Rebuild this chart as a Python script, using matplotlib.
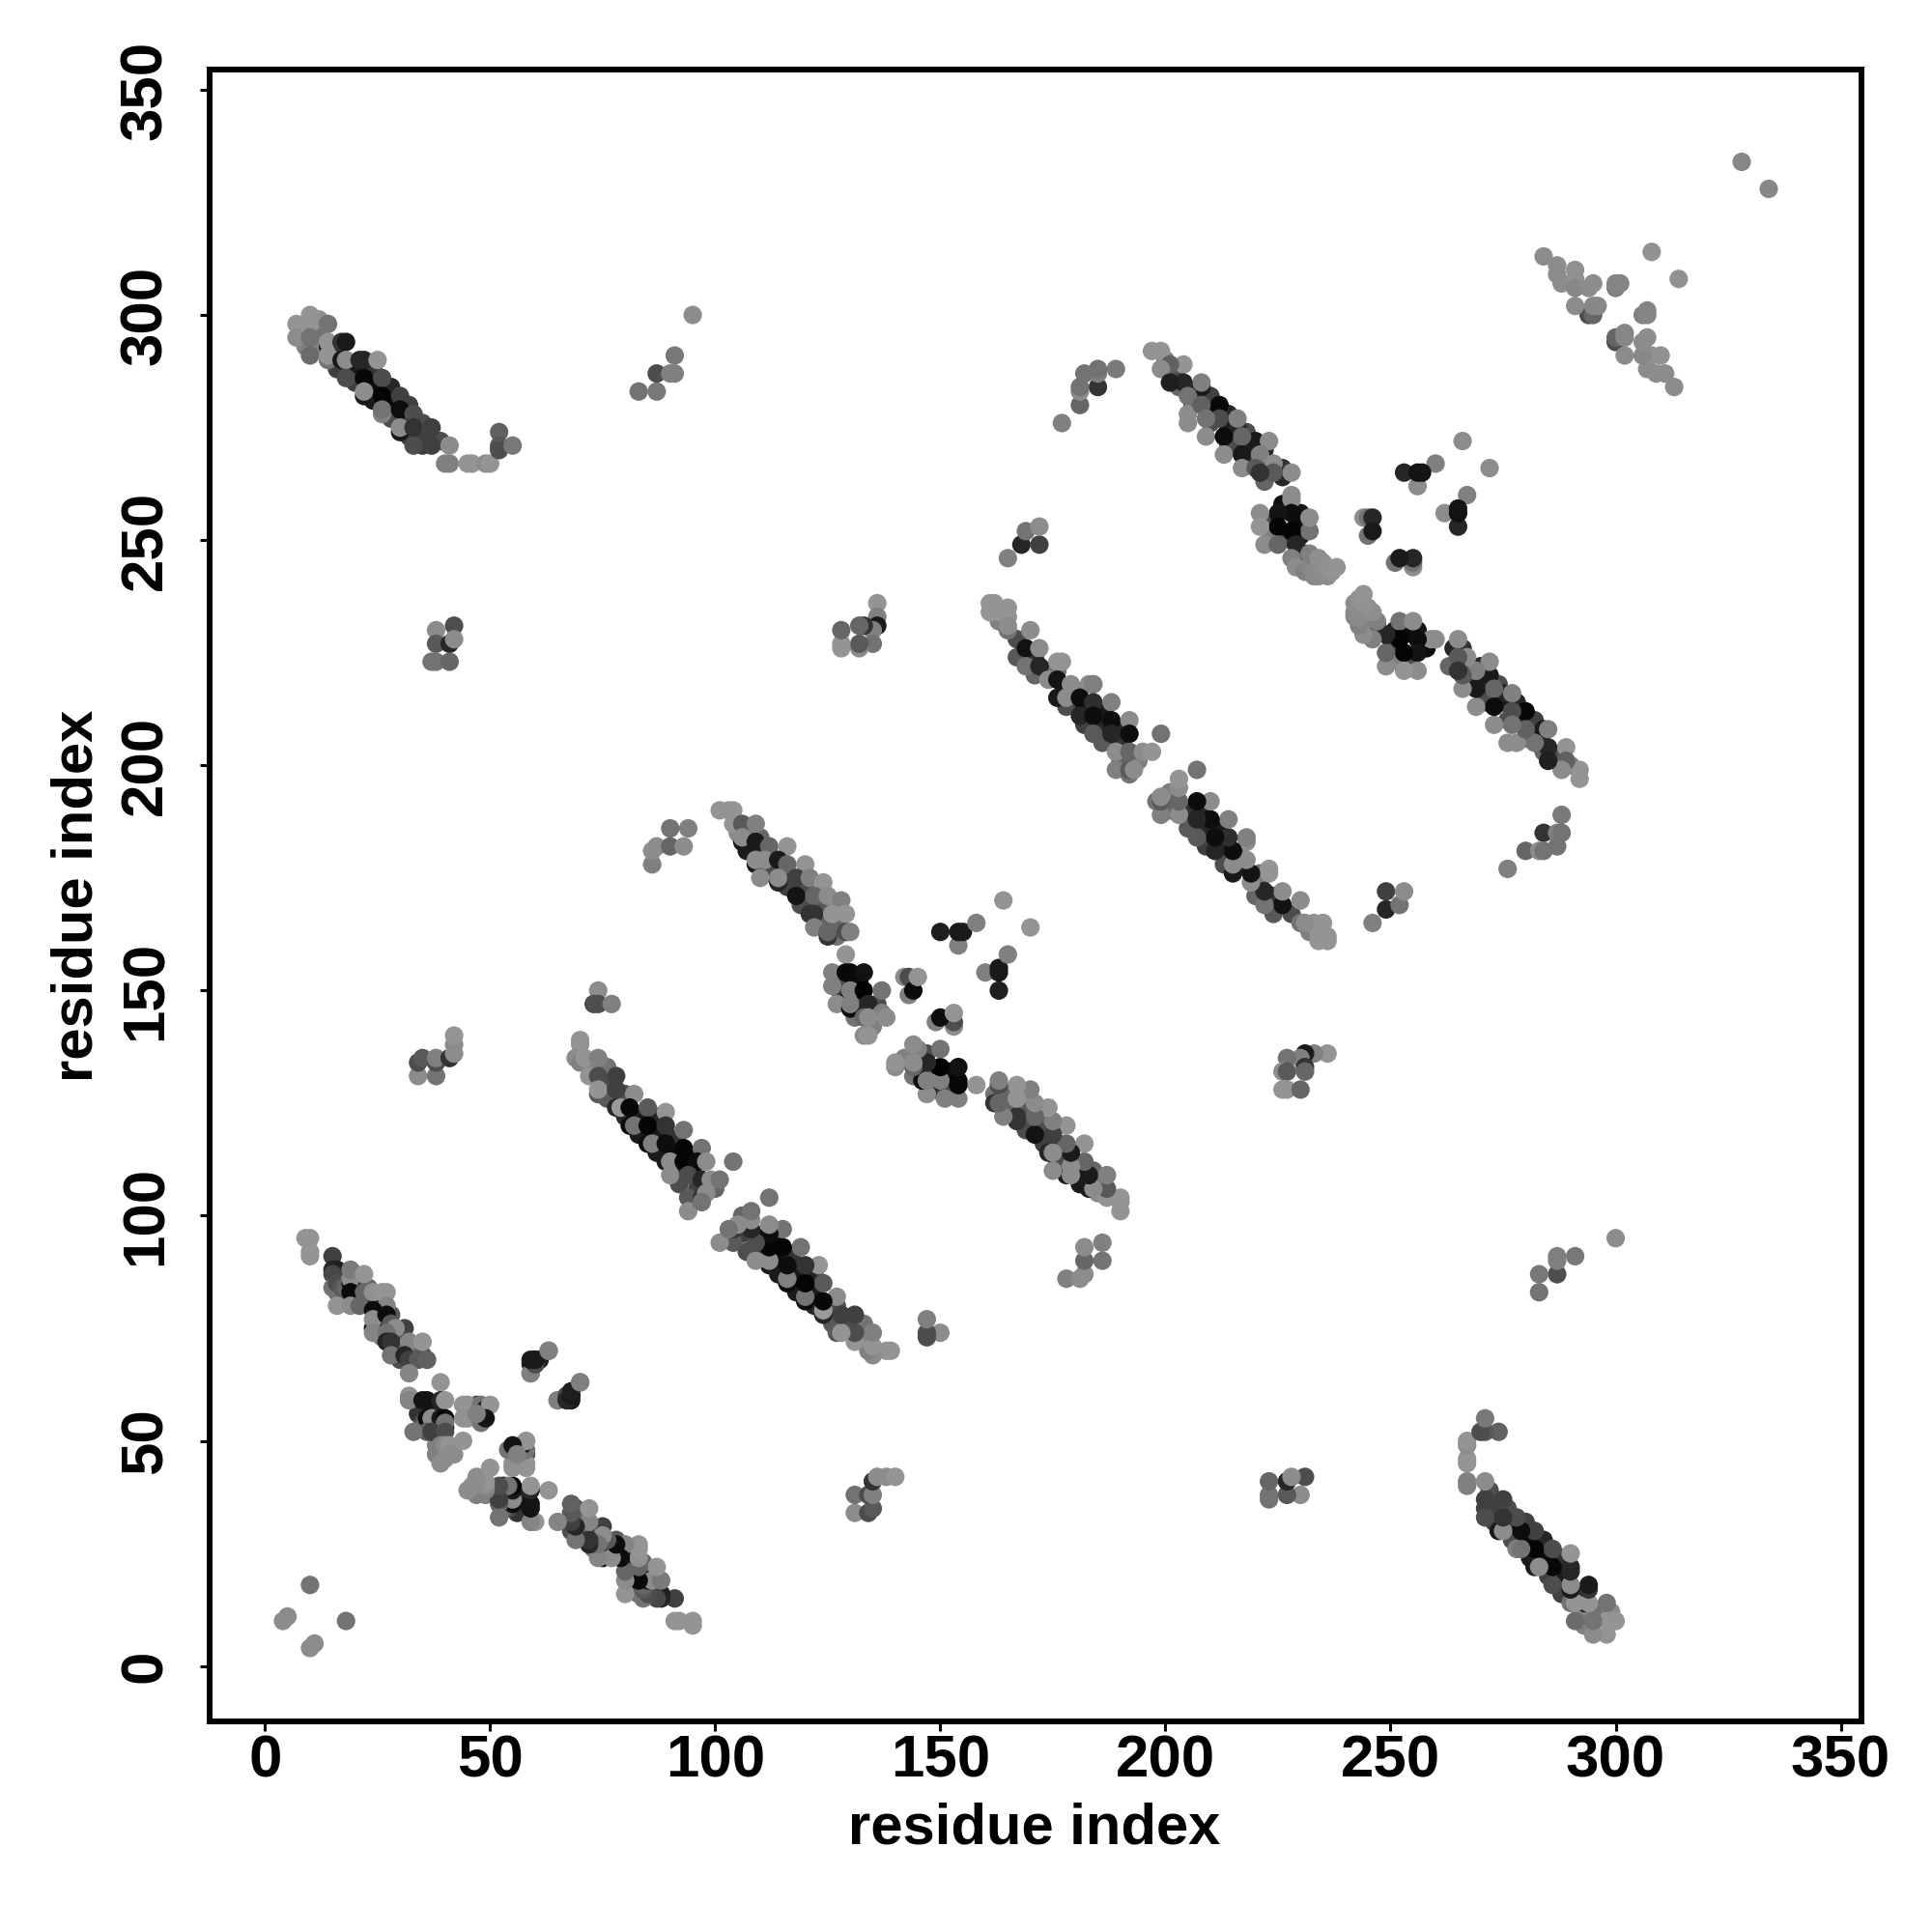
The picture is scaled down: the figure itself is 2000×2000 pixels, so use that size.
import matplotlib
matplotlib.use("Agg")
import matplotlib.pyplot as plt
import numpy as np

# contacts (residue i, residue j, grey level in percent); the map is symmetric, i < j listed
under_a = [(17,86,25),(20,84,30),(20,87,45),(18,82,35),(21,83,15),(23,81,20),(23,84,40),(25,81,15),(25,78,25),(25,76,30),
 (26,75,15),(28,78,35),(29,73,15),(30,72,25),(26,73,50),(30,70,30),(33,70,20),(35,69,25),(31,71,40),(34,70,40),(30,68,30),
 (17,82,50),(16,83,40),(34,56,20),(35,54,30),(37,57,10),(38,58,15),(38,54,20),(38,51,25),(35,53,40),(38,49,50),(38,47,50),
 (42,47,55),(47,58,30)]
under_b = [(76,129,40),(75,130,30),(76,126,35),(80,127,30),(80,122,15),(83,122,10),(83,118,10),(87,118,10),(87,122,15),
 (87,114,10),(91,114,5),(91,117,20),(91,110,20),(95,110,15),(95,113,5),(92,107,30),(96,106,25),(72,134,50),(76,133,45),(100,106,40)]
under_c = [(107,185,45),(107,181,10),(111,181,20),(112,178,15),(112,176,30),(116,176,20),(116,173,25),(120,173,30),(120,169,25),
 (124,169,35),(124,166,40),(127,165,40),(127,162,45),(119,169,30),(105,185,55),(127,168,50),(110,184,40),
 (128,152,30),(131,152,5),(128,149,20),(132,152,5),(132,148,10),(135,145,30),(132,146,25),(136,147,30),(131,144,45),(135,142,50)]
under_f = [(163,232,50),(167,228,30),(167,224,35),(171,224,20),(174,221,15),(171,220,40),(178,217,15),(178,213,30),(182,213,10),
 (186,212,10),(182,209,25),(186,209,15),(186,205,35),(190,205,20),(190,208,15),(190,201,40),(194,201,50),(176,221,45),(180,216,40)]
under_g = [(12,296,45),(12,293,50),(16,292,20),(16,288,25),(20,288,10),(20,285,25),(24,288,20),(24,284,5),(24,281,10),(28,284,15),
 (28,280,5),(28,277,30),(32,277,15),(32,280,25),(32,273,25),(35,273,25),(35,271,25),(35,276,30),(39,272,30),(9,293,50),(12,299,55)]
under_h = [(202,287,30),(206,283,20),(206,280,40),(210,279,10),(210,282,25),(210,276,30),(214,278,15),(214,275,10),(214,271,30),
 (218,271,15),(218,274,30),(218,268,25),(222,268,20),(222,270,15),(222,263,40),(226,264,15),(226,266,20),(203,284,40),(200,290,50),
 (224,252,15),(226,250,25),(230,251,10),(223,254,30),(226,258,5),(230,256,8),(223,252,50),(229,253,5),(231,247,35),(230,245,30)]
corner = [(4,10,55),(5,11,55),(10,18,45)]
band_a = [(9,95,58),(10,95,58),(10,92,58),(10,91,58),(15,91,25),(15,88,15),(16,88,13),(15,87,28),(15,84,45),
 (16,85,30),(17,84,35),(16,80,58),(18,84,40),(19,85,10),(19,86,55),(19,88,48),(22,87,58),(19,83,4),(19,80,55),
 (21,80,40),(22,83,40),(24,83,57),(26,83,58),(27,83,58),(27,80,52),(24,79,5),(24,75,5),(24,77,55),(24,74,52),
 (27,78,5),(28,76,35),(31,75,25),(29,75,55),(27,74,45),(27,72,15),(28,72,20),(32,72,52),(35,72,58),(28,69,45),
 (31,69,15),(32,68,25),(34,68,35),(36,68,38),(32,65,52)]
cross_a = [(32,60,58),(32,59,52),(39,63,58),(35,59,8),(36,59,8),(39,59,15),(40,59,58),(36,55,5),(37,55,55),(39,55,10),
 (40,53,5),(40,55,2),(40,54,45),(36,52,38),(33,52,45),(37,52,25),(40,52,30),(44,50,58),(39,49,50),(40,49,55),(41,49,58),
 (41,47,55),(40,46,55),(39,45,55),(45,58,58),(44,58,58),(45,55,58),(44,55,57),(48,58,45),(49,57,10),(50,58,58),
 (48,54,45),(49,55,8),(47,56,50),(59,65,50),(60,67,30),(59,67,15),(60,68,10),(61,68,12),(63,70,50),(65,59,50),
 (67,60,30),(68,60,10),(68,59,10),(70,63,50)]
band_b = [(74,150,55),(73,147,30),(74,147,30),(77,147,50),(70,139,58),(70,138,58),(69,135,55),(70,134,50),(71,135,58),
 (72,131,58),(74,135,50),(74,131,30),(74,127,35),(74,128,58),(78,131,25),(78,128,25),(82,127,55),(78,124,15),(79,124,60),
 (81,124,3),(85,124,35),(89,123,58),(81,120,5),(82,120,45),(85,120,2),(89,120,20),(93,119,45),(85,116,5),(86,116,50),
 (89,116,5),(93,115,2),(97,115,45),(89,112,10),(90,112,55),(93,112,2),(96,112,5),(98,112,55),(104,112,45),(90,109,55),
 (94,109,30),(97,108,15),(99,108,55),(101,108,45),(94,104,35),(97,104,20),(98,105,55),(94,101,55),(97,103,45)]
band_c = [(101,190,58),(103,190,58),(104,190,58),(104,187,58),(106,187,35),(109,187,50),(106,183,10),(106,184,55),(109,183,10),
 (112,182,40),(116,182,58),(109,178,10),(109,179,55),(111,179,55),(114,179,10),(116,178,40),(120,178,58),(110,175,55),
 (114,174,15),(114,175,55),(118,175,25),(121,175,50),(124,174,58),(118,171,8),(122,171,40),(125,171,55),(128,170,50),
 (121,167,20),(122,167,20),(126,167,58),(129,167,58),(122,164,50),(125,162,20),(125,163,40),(129,163,30),(130,163,50)]
cross_c = [(129,158,58),(126,154,50),(126,151,50),(129,154,3),(130,154,3),(133,154,7),(130,149,5),(130,150,50),(133,150,1),(137,150,45),
 (127,147,55),(130,146,5),(130,147,50),(134,147,15),(133,144,40),(137,145,50),(134,144,55),(138,144,55),(133,140,55),(134,140,58),
 (142,153,55),(143,153,30),(143,149,50),(144,150,5),(145,153,58),(150,163,12),(154,160,50),(154,163,10),(155,163,10),
 (158,165,50),(164,170,58)]
group_e = [(86,178,50),(86,181,55),(87,182,55),(90,182,40),(90,186,45),(94,186,50),(93,182,55)]
band_f = [(161,236,58),(162,236,58),(161,234,58),(162,235,58),(163,234,58),(165,235,58),(165,233,58),(165,230,45),(165,231,55),(170,230,55),
 (169,226,7),(172,226,55),(169,222,45),(172,222,15),(176,223,58),(177,223,58),(174,219,55),(176,219,8),(179,218,55),(183,218,55),(184,218,50),
 (176,215,10),(178,215,55),(181,215,5),(184,214,18),(188,214,50),(181,211,15),(184,211,5),(188,210,5),(192,210,55),(184,207,35),(188,207,15),
 (192,207,5),(199,207,45),(189,203,55),(192,203,40),(195,203,55),(197,203,58),(189,199,50),(192,198,45),(192,199,35),(193,199,55)]
group_f2 = [(165,246,50),(168,249,15),(172,249,25),(169,252,45),(172,253,55)]
group_g = [(136,236,58),(136,233,50),(136,231,10),(135,230,50),(135,227,45),(132,226,55),(132,227,35),(133,231,20),(132,231,40),
 (128,226,58),(128,227,58),(128,230,40)]
group_h = [(38,230,55),(38,227,35),(42,231,30),(41,227,15),(42,228,55),(37,223,45),(38,223,45),(41,223,40),
 (95,300,55),(91,291,47),(87,287,30),(90,287,50),(91,287,50),(83,283,45),(87,283,47),
 (34,131,55),(38,131,45),(34,134,30),(35,135,35),(38,134,30),(38,135,50),(41,135,20),(42,136,55),(42,138,55),(42,140,58)]
band_g = [(7,298,58),(10,300,58),(10,298,58),(7,295,55),(10,295,45),(10,291,42),(14,298,45),(14,293,10),(14,294,58),(14,290,45),(14,291,58),
 (17,294,20),(18,294,10),(17,290,10),(18,290,55),(18,286,30),(21,290,15),(22,290,15),(25,290,58),(22,286,3),(26,286,30),(22,282,10),(22,283,55),
 (26,282,2),(30,282,25),(26,278,50),(26,279,45),(30,279,5),(30,274,10),(30,275,55),(33,278,30),(33,275,20),(37,275,25),(33,271,30),
 (37,271,25),(41,271,55),(40,267,50),(41,267,50),(45,267,58),(46,267,58),(49,267,55),(50,267,58),(52,274,38),(52,271,35),(52,270,30),(55,271,47)]
band_h = [(197,292,58),(199,292,58),(204,289,58),(201,289,38),(199,288,55),(208,284,10),(208,285,50),(204,285,15),(201,285,12),(205,282,45),
 (205,278,55),(205,276,55),(212,280,3),(208,280,38),(216,275,15),(216,277,50),(212,277,30),(209,277,45),(209,273,55),(220,272,10),(223,272,55),
 (217,273,40),(213,273,5),(213,269,55),(217,269,10),(221,269,50),(217,266,55),(220,266,35),(224,267,55),(228,265,55),(224,265,35),(221,265,20),
 (228,260,55),(228,259,55),(228,256,5),(225,256,8),(221,256,55),(232,252,45),(232,255,55),(228,252,2),(225,253,2),(221,253,58),(222,249,55),
 (225,249,40),(229,249,15),(228,246,50),(229,244,55)]
blob_h = [(231,243,50),(232,244,52),(232,247,50),(233,242,52),(233,243,54),(234,242,54),(234,246,56),(235,243,55),(235,245,56),(236,242,55),
 (236,244,57),(237,243,57),(238,244,58)]
group_j = [(266,272,55),(260,267,50),(253,265,15),(256,262,55),(256,265,7),(257,265,8),(244,255,55),(245,255,45),(246,255,15),(245,251,45),(246,252,10),
 (189,288,48),(185,284,20),(185,287,50),(185,288,45),(181,280,40),(181,283,55),(181,284,45),(182,287,45),(177,276,50)]
band_k = [(284,313,55),(287,311,55),(287,309,55),(288,307,55),(291,310,57),(291,308,57),(291,306,53),(294,300,30),(295,300,40),(294,306,55),(295,307,55),
 (291,302,55),(295,302,53),(296,302,53),(300,306,50),(300,307,52),(301,307,52),(308,314,57),(328,334,53)]

groups = [under_a, under_b, under_c, under_f, under_g, under_h, corner, band_a, cross_a, band_b, band_c, cross_c, group_e,
          band_f, group_f2, group_g, group_h, band_g, band_h, blob_h, group_j, band_k]
xticks = [0, 50, 100, 150, 200, 250, 300, 350]
xlabel = "residue index"
ylabel = "residue index"

plt.rcParams["font.family"] = ["Liberation Sans", "DejaVu Sans"]
plt.rcParams["font.weight"] = "bold"
fig = plt.figure(figsize=(20, 20), dpi=100)
ax = fig.add_axes([217/2000, 1-1782/2000, (1927-217)/2000, (1782-71.5)/2000])

for grp in groups:
    a = np.array(grp, dtype=float)
    i, j, g = a[:, 0], a[:, 1], a[:, 2] / 100
    ax.scatter(i, j, s=190, c=np.c_[g, g, g], linewidths=0, zorder=3)
    ax.scatter(j, i, s=190, c=np.c_[g, g, g], linewidths=0, zorder=3)

ax.set_xlim(-12.3, 354.6)
ax.set_ylim(-12.3, 354.6)
ax.set_xticks(xticks)
ax.set_yticks(xticks)
for lab in ax.get_yticklabels():
    lab.set_rotation(90)
    lab.set_va("center")
ax.tick_params(axis="x", length=7.5, width=2.2, pad=2, labelsize=44.5)
ax.tick_params(axis="y", length=7.5, width=2.2, pad=19, labelsize=44.5)
for s in ax.spines.values():
    s.set_linewidth(4.3)
fig.text(1071/2000, 1-1893/2000, xlabel, ha="center", va="center", fontsize=43, fontweight="bold")
fig.text(80/2000, 1-927/2000, ylabel, ha="center", va="center", rotation=90, fontsize=43, fontweight="bold")
fig.savefig("out.png", dpi=100, facecolor="white")
